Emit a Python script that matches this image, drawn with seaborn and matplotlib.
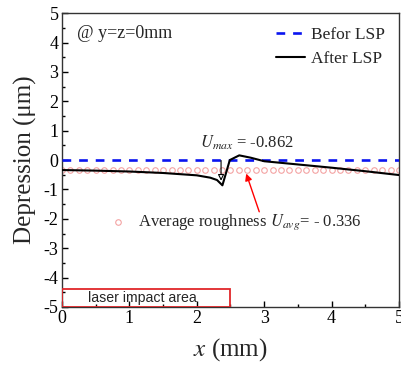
import matplotlib
matplotlib.use("Agg")
import matplotlib.pyplot as plt
import matplotlib.patches as patches
import seaborn as sns
import pandas as pd

# curve after LSP (x in mm, depression in um)
x_after = [0.0, 0.5, 1.0, 1.5, 2.0, 2.2, 2.3, 2.38, 2.49, 2.63, 2.8, 3.0, 3.5, 4.0, 4.5, 5.0]
y_after = [-0.34, -0.36, -0.39, -0.44, -0.52, -0.60, -0.68, -0.86, 0.0, 0.16, 0.08, -0.04, -0.15, -0.26, -0.38, -0.51]

# before LSP: flat surface
x_before = [0.0, 5.0]
y_before = [0.0, 0.0]

# average roughness markers
x_rough = [0.0, 0.125, 0.25, 0.375, 0.5, 0.625, 0.75, 0.875, 1.0, 1.125, 1.25, 1.375,
           1.5, 1.625, 1.75, 1.875, 2.0, 2.125, 2.25, 2.375, 2.5, 2.625, 2.75, 2.875,
           3.0, 3.125, 3.25, 3.375, 3.5, 3.625, 3.75, 3.875, 4.0, 4.125, 4.25, 4.375,
           4.5, 4.625, 4.75, 4.875, 5.0]
u_avg = -0.336
u_max = -0.862
laser_end = 2.49

sns.set_theme(style="ticks")
plt.rcParams['font.family'] = ['Liberation Serif', 'DejaVu Serif']
plt.rcParams['mathtext.fontset'] = 'stix'
plt.rcParams['axes.unicode_minus'] = False

fig = plt.figure(figsize=(4.01, 3.65), dpi=100)
ax = fig.add_axes([0.1546, 0.159, 0.8404, 0.805])

df_after = pd.DataFrame({'x': x_after, 'y': y_after})
df_before = pd.DataFrame({'x': x_before, 'y': y_before})

ax.plot(x_rough, [u_avg] * len(x_rough), linestyle='none', marker='o', markersize=4,
        markerfacecolor='none', markeredgecolor='#f4a3a3', markeredgewidth=0.8, zorder=2)
sns.lineplot(x='x', y='y', data=df_before, ax=ax, color='#0a14f0', linewidth=1.9,
             dashes=(3.3, 3.0), label='Befor LSP', zorder=3)
sns.lineplot(x='x', y='y', data=df_after, ax=ax, color='black', linewidth=1.5,
             sort=False, label='After LSP', zorder=4)

ax.set_xlim(0, 5)
ax.set_ylim(-5, 5)
ax.set_xticks([0, 1, 2, 3, 4, 5])
ax.set_yticks([-5, -4, -3, -2, -1, 0, 1, 2, 3, 4, 5])
ax.set_xticks([0.5, 1.5, 2.5, 3.5, 4.5], minor=True)
ax.set_yticks([-4.5, -3.5, -2.5, -1.5, -0.5, 0.5, 1.5, 2.5, 3.5, 4.5], minor=True)
ax.tick_params(which='both', direction='in', labelsize=13, colors='black', width=1)
ax.tick_params(which='major', length=4, pad=2.5)
ax.tick_params(which='minor', length=2.5)
for s in ax.spines.values():
    s.set_color('#333333')
    s.set_linewidth(1)

ax.set_xlabel(r'$x$ (mm)', fontsize=18, labelpad=6)
ax.set_ylabel('Depression (μm)', fontsize=18, labelpad=5)

leg = ax.legend(loc='upper right', frameon=False, fontsize=12.5, handlelength=1.7,
                handletextpad=0.35, borderaxespad=0.4, labelspacing=0.45,
                bbox_to_anchor=(1.0, 1.0))

ax.text(0.22, 4.3, '@ y=z=0mm', fontsize=13, va='center', ha='left')

# U_max annotation
ax.text(2.05, 0.6, r'$U_{max}$ = ' + f'{u_max}', fontsize=12, va='center', ha='left')
ax.annotate('', xy=(2.36, -0.8), xytext=(2.36, 0.08),
            arrowprops=dict(arrowstyle='-|>', fc='white', ec='black', lw=0.8,
                            mutation_scale=9))

# average roughness annotation
ax.plot([0.83], [-2.1], linestyle='none', marker='o', markersize=4,
        markerfacecolor='none', markeredgecolor='#f4a3a3', markeredgewidth=0.8)
ax.text(1.13, -2.1, r'Average roughness $U_{avg}$= - 0.336', fontsize=12,
        va='center', ha='left')
ax.annotate('', xy=(2.72, -0.37), xytext=(2.94, -1.85),
            arrowprops=dict(arrowstyle='-|>', color='red', lw=1, mutation_scale=10))

# laser impact area box
ax.add_patch(patches.Rectangle((0, -5), laser_end, 0.62, fill=False,
                               edgecolor='#e0262a', linewidth=1.3, zorder=5))
ax.text(0.38, -4.68, 'laser impact area', fontsize=10.2, family='Liberation Sans',
        va='center', ha='left')

plt.savefig('out.png', dpi=100)
plt.close()
